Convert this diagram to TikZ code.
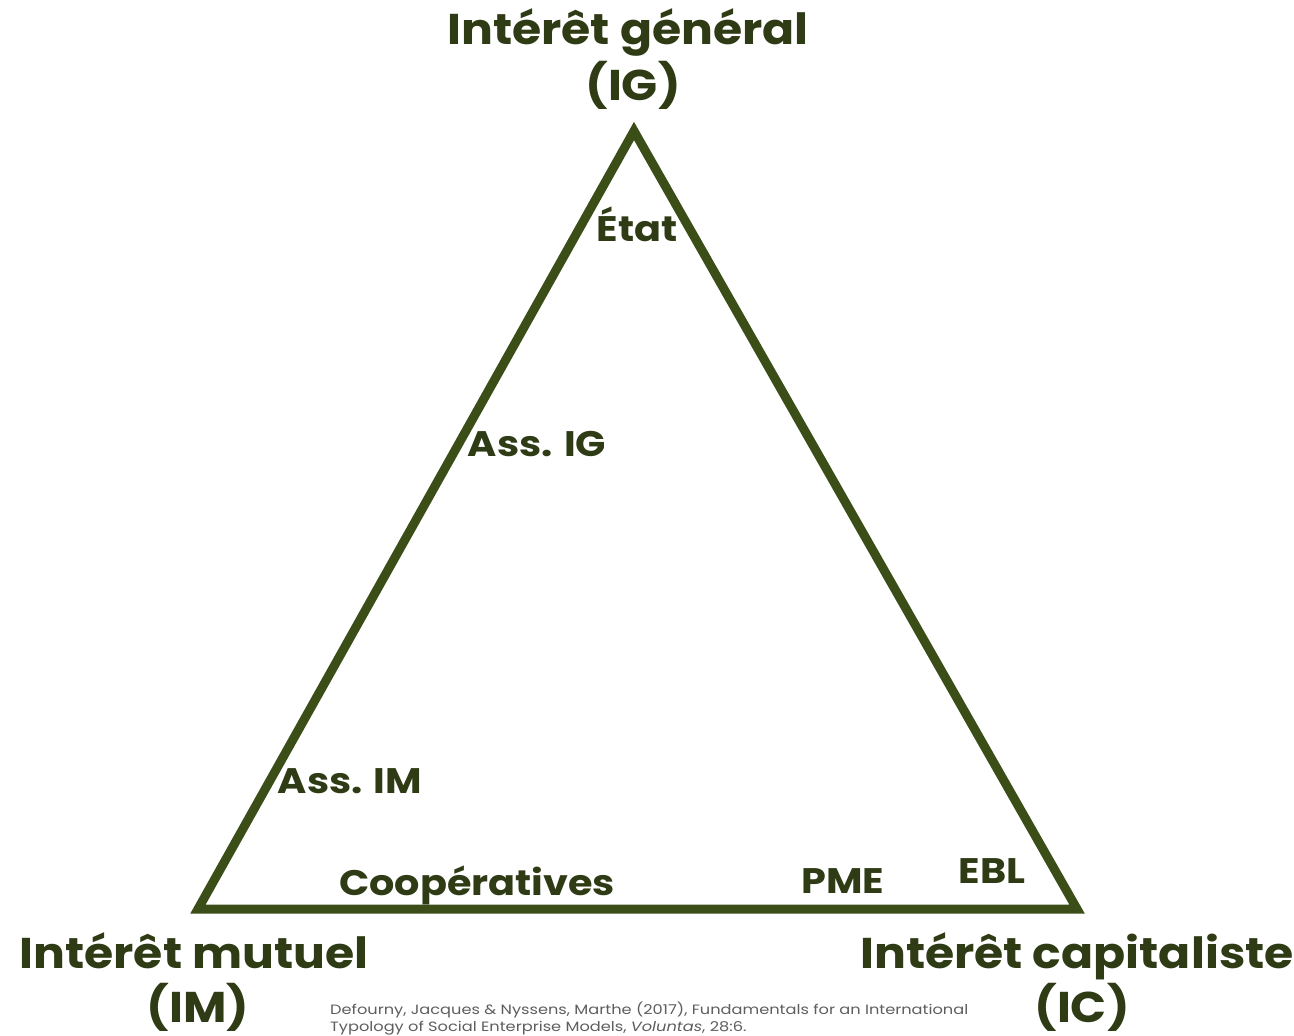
\documentclass[tikz,border=0pt]{standalone}
\usepackage{fontspec}
\setmainfont{Poppins}
\newfontfamily\labfont{Poppins}[FakeStretch=1.1]
\newfontfamily\smlfont{Poppins}[FakeStretch=1.12]
\newfontfamily\citefont{Poppins}[FakeStretch=1.2]
\definecolor{trigreen}{HTML}{3B4E18}
\definecolor{txtgreen}{HTML}{2E3B14}
\definecolor{citegray}{HTML}{5E5E5E}
\begin{document}
\begin{tikzpicture}[x=1pt,y=-1pt,
  big/.style={font=\labfont\fontsize{43}{48}\selectfont\bfseries, text=txtgreen, anchor=base, inner sep=0pt},
  small/.style={font=\smlfont\fontsize{35.5}{40}\selectfont\bfseries, text=txtgreen, anchor=base, inner sep=0pt},
  cite/.style={font=\citefont\fontsize{13.5}{17}\selectfont, text=citegray, anchor=base west, inner sep=0pt, align=left}]
\useasboundingbox (0,0) rectangle (1294,1036);
\fill[white] (0,0) rectangle (1294,1036);
\coordinate (A) at (634,131);
\coordinate (B) at (198,909);
\coordinate (C) at (1077,909);
\draw[trigreen, line width=9pt, line join=miter] (A) -- (B) -- (C) -- cycle;
\node[big] (ig) at (628,45) {Intérêt général};
\node[big] (igs) at (633,100) {(IG)};
\node[big] (im) at (194,968) {Intérêt mutuel};
\node[big] (ims) at (198,1022) {(IM)};
\node[big] (ic) at (1077,968) {Intérêt capitaliste};
\node[big] (ics) at (1082,1022) {(IC)};
\node[small] (etat) at (637,241) {État};
\node[small] (assig) at (537,456) {Ass. IG};
\node[small] (assim) at (350,793) {Ass. IM};
\node[small] (coop) at (477,895) {Coopératives};
\node[small] (pme) at (843,893) {PME};
\node[small] (ebl) at (992,883) {EBL};
\node[cite] (ref) at (330,1031) {Defourny, Jacques \& Nyssens, Marthe (2017), Fundamentals for an International\\Typology of Social Enterprise Models, \textit{Voluntas}, 28:6.};
\end{tikzpicture}
\end{document}
